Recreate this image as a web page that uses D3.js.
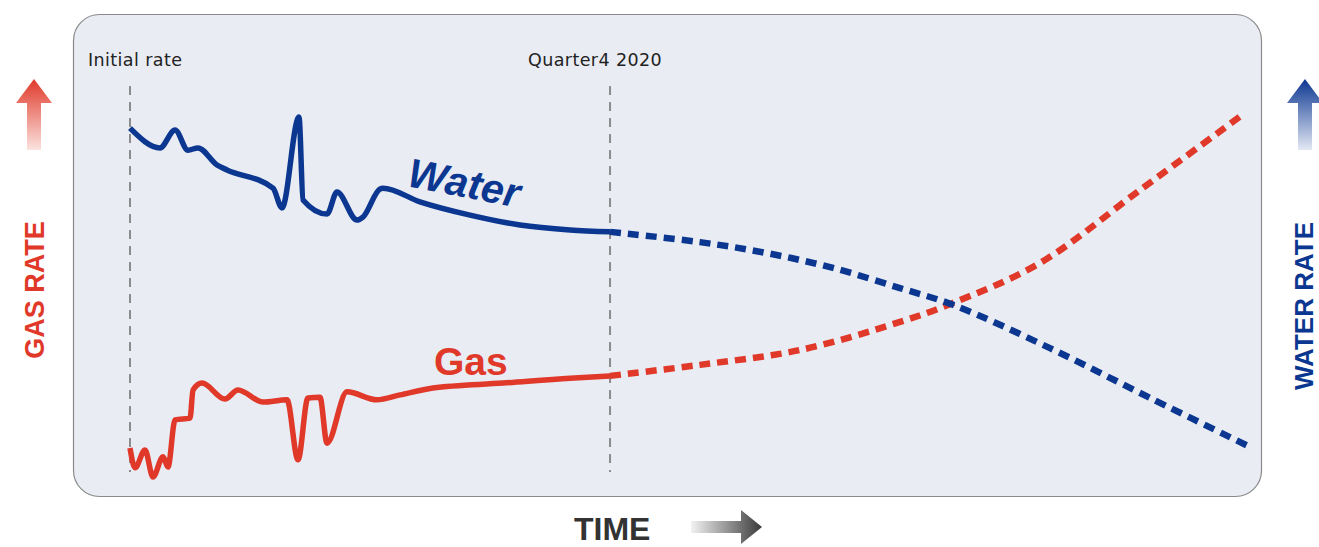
<!DOCTYPE html>
<html>
<head>
<meta charset="utf-8">
<script src="https://cdn.jsdelivr.net/npm/d3@7"></script>
<style>
  body { margin: 0; background: #fff; }
  svg { display: block; }
</style>
</head>
<body>
<div id="chart"></div>
<script>
// time axis 0..100, rate axis 0..100 (arbitrary units, no ticks shown)
var waterT = [0, 2.68, 4.02, 5.18, 6.07, 7.77, 8.66, 12.77, 13.57, 15.09, 15.45, 17.59, 18.48, 20.27, 20.8, 22.32, 22.59, 25.89, 30.36, 34.82, 39.29, 42.86];
var waterV = [92.6, 87.4, 92.1, 86.8, 87.4, 82.9, 81.6, 76.8, 71.6, 95.5, 73.7, 70.0, 75.8, 68.4, 69.2, 76.6, 76.8, 73.2, 69.7, 67.1, 65.8, 65.3];
var waterFcT = [42.86, 50.89, 56.88, 62.77, 68.75, 73.48, 82.14, 91.07, 100];
var waterFcV = [65.3, 62.6, 59.7, 55.8, 50.5, 46.1, 34.7, 21.6, 8.7];

var gasT = [0, 0.45, 1.34, 2.05, 2.95, 3.39, 4.02, 5.36, 5.63, 6.43, 8.48, 9.64, 11.88, 14.02, 15.0, 15.89, 16.96, 17.59, 19.38, 22.05, 24.11, 27.05, 33.3, 39.29, 42.86];
var gasV = [8.4, 3.2, 7.9, 0.8, 6.1, 3.4, 15.8, 16.3, 23.7, 25.5, 21.3, 23.7, 20.5, 21.1, 5.3, 21.6, 21.8, 9.7, 23.2, 21.1, 22.4, 24.2, 25.5, 26.8, 27.4];
var gasFcT = [42.86, 50.89, 59.82, 68.75, 73.48, 81.25, 90.18, 99.55];
var gasFcV = [27.4, 30.3, 34.2, 41.6, 46.6, 57.1, 76.3, 96.6];

var markerT = [0, 42.86];
var markerLabels = ["Initial rate", "Quarter4 2020"];

var W = 1319, H = 547;
var blue = "#0c3791", red = "#e0392a";

var svg = d3.select("#chart").append("svg").attr("width", W).attr("height", H);

var defs = svg.append("defs");
function grad(id, c1, c2, x1, y1, x2, y2) {
	var g = defs.append("linearGradient").attr("id", id)
		.attr("x1", x1).attr("y1", y1).attr("x2", x2).attr("y2", y2);
	g.append("stop").attr("offset", "0%").attr("stop-color", c1);
	g.append("stop").attr("offset", "100%").attr("stop-color", c2);
}
grad("gRed", red, "#fbe3df", "0", "0", "0", "1");
grad("gBlue", blue, "#e3e8f4", "0", "0", "0", "1");
grad("gGray", "#f2f2f2", "#3a3a3a", "0", "0", "1", "0");

// panel
svg.append("rect")
	.attr("x", 73.5).attr("y", 14.5)
	.attr("width", 1188).attr("height", 482)
	.attr("rx", 26).attr("ry", 26)
	.attr("fill", "#e9ecf3")
	.attr("stroke", "#8a8a8a").attr("stroke-width", 1.2);

var x = d3.scaleLinear().domain([0, 100]).range([130, 1250]);
var y = d3.scaleLinear().domain([0, 100]).range([480, 100]);

// marker lines
svg.selectAll(".marker").data(markerT).enter().append("line")
	.attr("x1", function(d) { return x(d); })
	.attr("x2", function(d) { return x(d); })
	.attr("y1", 86).attr("y2", 472)
	.attr("stroke", "#8c8c8c").attr("stroke-width", 2)
	.attr("stroke-dasharray", "9,7");

svg.selectAll(".mlabel").data(markerLabels).enter().append("text")
	.attr("x", function(d, i) { return i == 0 ? 88 : 528; })
	.attr("y", 66)
	.attr("font-family", "DejaVu Sans")
	.attr("font-size", 17.5)
	.attr("letter-spacing", 0.4)
	.attr("fill", "#222")
	.text(function(d) { return d; });

var line = d3.line()
	.x(function(d) { return x(d[0]); })
	.y(function(d) { return y(d[1]); })
	.curve(d3.curveMonotoneX);

var smooth = d3.line()
	.x(function(d) { return x(d[0]); })
	.y(function(d) { return y(d[1]); })
	.curve(d3.curveCatmullRom.alpha(0.5));

function zip(a, b) { return a.map(function(v, i) { return [v, b[i]]; }); }

function drawSeries(t, v, color, dashed) {
	svg.append("path")
		.datum(zip(t, v))
		.attr("d", dashed ? smooth : line)
		.attr("fill", "none")
		.attr("stroke", color)
		.attr("stroke-width", dashed ? 6.5 : 5.5)
		.attr("stroke-linejoin", "round")
		.attr("stroke-dasharray", dashed ? "11,7" : null);
}

drawSeries(gasFcT, gasFcV, red, true);
drawSeries(waterFcT, waterFcV, blue, true);
drawSeries(waterT, waterV, blue, false);
drawSeries(gasT, gasV, red, false);

// series labels
svg.append("text")
	.attr("transform", "translate(406,186) rotate(11)")
	.attr("font-family", "Liberation Sans, Arial")
	.attr("font-weight", "bold").attr("font-style", "italic")
	.attr("font-size", 41)
	.attr("fill", blue)
	.text("Water");

svg.append("text")
	.attr("x", 434).attr("y", 375)
	.attr("font-family", "Liberation Sans, Arial")
	.attr("font-weight", "bold")
	.attr("font-size", 39)
	.attr("fill", red)
	.text("Gas");

// axis titles with arrows
function upArrow(cx, fill) {
	var p = d3.path();
	p.moveTo(cx, 79);
	p.lineTo(cx + 18, 103);
	p.lineTo(cx + 7, 103);
	p.lineTo(cx + 7, 150);
	p.lineTo(cx - 7, 150);
	p.lineTo(cx - 7, 103);
	p.lineTo(cx - 18, 103);
	p.closePath();
	svg.append("path").attr("d", p.toString()).attr("fill", fill);
}
upArrow(34, "url(#gRed)");
upArrow(1305, "url(#gBlue)");

svg.append("text")
	.attr("transform", "translate(44,290) rotate(-90)")
	.attr("text-anchor", "middle")
	.attr("font-family", "Liberation Sans, Arial")
	.attr("font-weight", "bold").attr("font-size", 27)
	.attr("fill", red)
	.text("GAS RATE");

svg.append("text")
	.attr("transform", "translate(1313,306) rotate(-90)")
	.attr("text-anchor", "middle")
	.attr("font-family", "Liberation Sans, Arial")
	.attr("font-weight", "bold").attr("font-size", 26)
	.attr("fill", blue)
	.text("WATER RATE");

svg.append("text")
	.attr("x", 574).attr("y", 540)
	.attr("font-family", "Liberation Sans, Arial")
	.attr("font-weight", "bold").attr("font-size", 32)
	.attr("fill", "#333")
	.text("TIME");

var ta = d3.path();
ta.moveTo(691, 521);
ta.lineTo(741, 521);
ta.lineTo(741, 510);
ta.lineTo(762, 527);
ta.lineTo(741, 544);
ta.lineTo(741, 533);
ta.lineTo(691, 533);
ta.closePath();
svg.append("path").attr("d", ta.toString()).attr("fill", "url(#gGray)");
</script>
</body>
</html>
